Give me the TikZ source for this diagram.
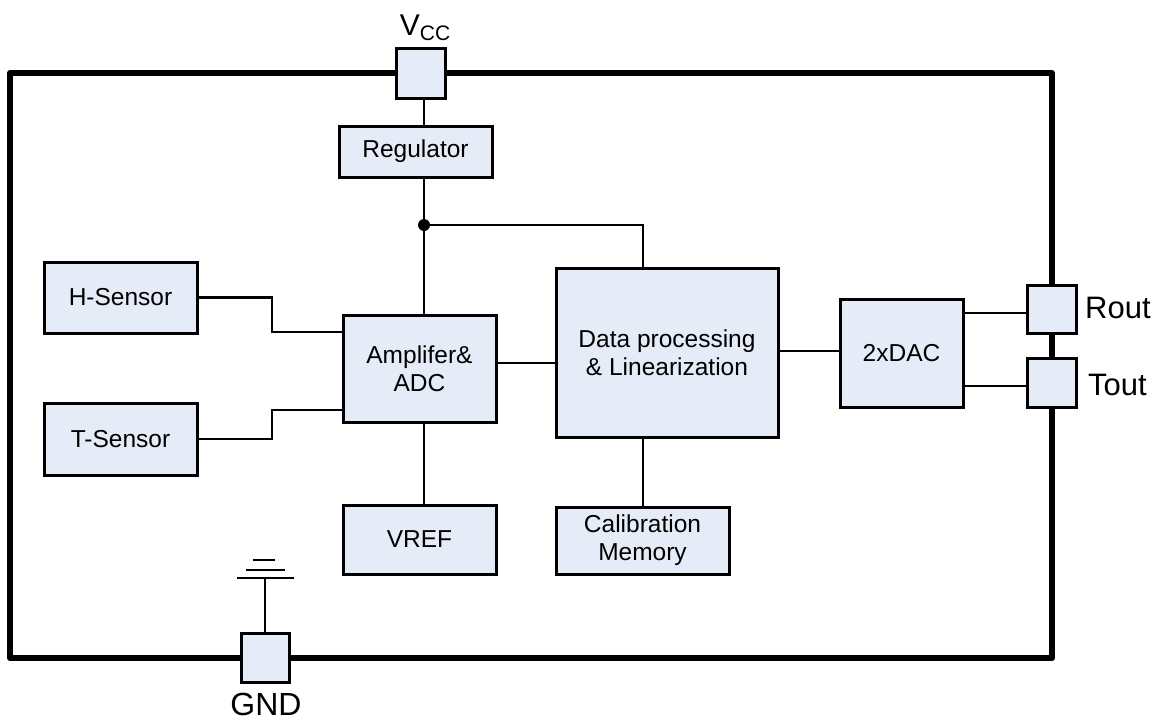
\documentclass[tikz,border=0pt]{standalone}
\usepackage{fontspec}
\setmainfont{Liberation Sans}
\begin{document}
\begin{tikzpicture}[x=1pt,y=-1pt,
  blk/.style={draw=black, fill=boxfill, line width=3pt, rectangle, inner sep=0pt, align=center,
    font=\fontsize{24.5}{28}\selectfont},
  pin/.style={draw=black, fill=boxfill, line width=3pt, rectangle, inner sep=0pt},
  wire/.style={line width=2.8pt, line cap=rect},
  lbl/.style={font=\fontsize{31}{34}\selectfont, inner sep=0pt}]
\definecolor{boxfill}{RGB}{230,236,247}
\useasboundingbox (0,0) rectangle (1165,720);
% outer border
\draw[line width=6pt, line join=round] (10,73) rectangle (1052,658);
% pins
\node[pin, minimum width=49pt, minimum height=50pt] (vcc) at (420.5,73) {};
\node[pin, minimum width=48pt, minimum height=49pt] (gnd) at (265,657.5) {};
\node[pin, minimum width=49pt, minimum height=48pt] (rout) at (1051.5,309) {};
\node[pin, minimum width=49pt, minimum height=49pt] (tout) at (1051.5,382.5) {};
% pin labels
\node[lbl, font=\fontsize{30}{32}\selectfont] (vcclbl) at (425,28) {V\raisebox{-5pt}{\fontsize{21}{21}\selectfont CC}};
\node[lbl, font=\fontsize{32}{34}\selectfont] (gndlbl) at (266,704) {GND};
\node[lbl, anchor=west] (routlbl) at (1085,308) {Rout};
\node[lbl, anchor=west] (toutlbl) at (1088,385) {Tout};
% blocks
\node[blk, minimum width=153pt, minimum height=51pt] (reg) at (415.5,151.5) {Regulator};
\node[blk, minimum width=153pt, minimum height=71pt] (hs) at (120.5,297.5) {H-Sensor};
\node[blk, minimum width=153pt, minimum height=72pt] (ts) at (120.5,439) {T-Sensor};
\node[blk, minimum width=153pt, minimum height=107pt] (amp) at (419.5,368.5) {Amplifer\&\\ADC};
\node[blk, minimum width=222pt, minimum height=169pt] (data) at (667,352.5) {Data processing\\\& Linearization};
\node[blk, minimum width=123pt, minimum height=108pt] (dac) at (901.5,353) {2xDAC};
\node[blk, minimum width=153pt, minimum height=69pt] (vref) at (419.5,539.5) {VREF};
\node[blk, minimum width=173pt, minimum height=67pt] (cal) at (642.5,540.5) {Calibration\\Memory};
% helper coordinates
\coordinate (j) at (424,225);
\coordinate (dx) at (643,0);
\coordinate (hx) at (272,0);
\coordinate (y332) at (0,332);
\coordinate (y410) at (0,410);
\coordinate (y363) at (0,363);
\coordinate (y351) at (0,351);
\coordinate (y313) at (0,313);
\coordinate (y386) at (0,386);
\coordinate (gtop) at (265,578);
% connectors
\draw[wire] (vcc.south -| j) -- (reg.north -| j);
\draw[wire] (reg.south -| j) -- (j) -- (amp.north -| j);
\draw[wire] (amp.south -| j) -- (vref.north -| j);
\draw[wire] (j) -- (j -| dx) -- (data.north -| dx);
\draw[wire] (data.south -| dx) -- (cal.north -| dx);
\draw[wire] (hs.east) -- (hs.east -| hx) |- (amp.west |- y332);
\draw[wire] (ts.east) -- (ts.east -| hx) |- (amp.west |- y410);
\draw[wire] (amp.east |- y363) -- (data.west |- y363);
\draw[wire] (data.east |- y351) -- (dac.west |- y351);
\draw[wire] (dac.east |- y313) -- (rout.west |- y313);
\draw[wire] (dac.east |- y386) -- (tout.west |- y386);
\fill (j) circle (6pt);
% ground symbol
\draw[wire] (gnd.north) -- (gtop);
\draw[wire, line cap=butt] (237,578) -- (294,578);
\draw[wire, line cap=butt] (246,570) -- (285,570);
\draw[wire, line cap=butt] (253,560) -- (275,560);
\end{tikzpicture}
\end{document}
